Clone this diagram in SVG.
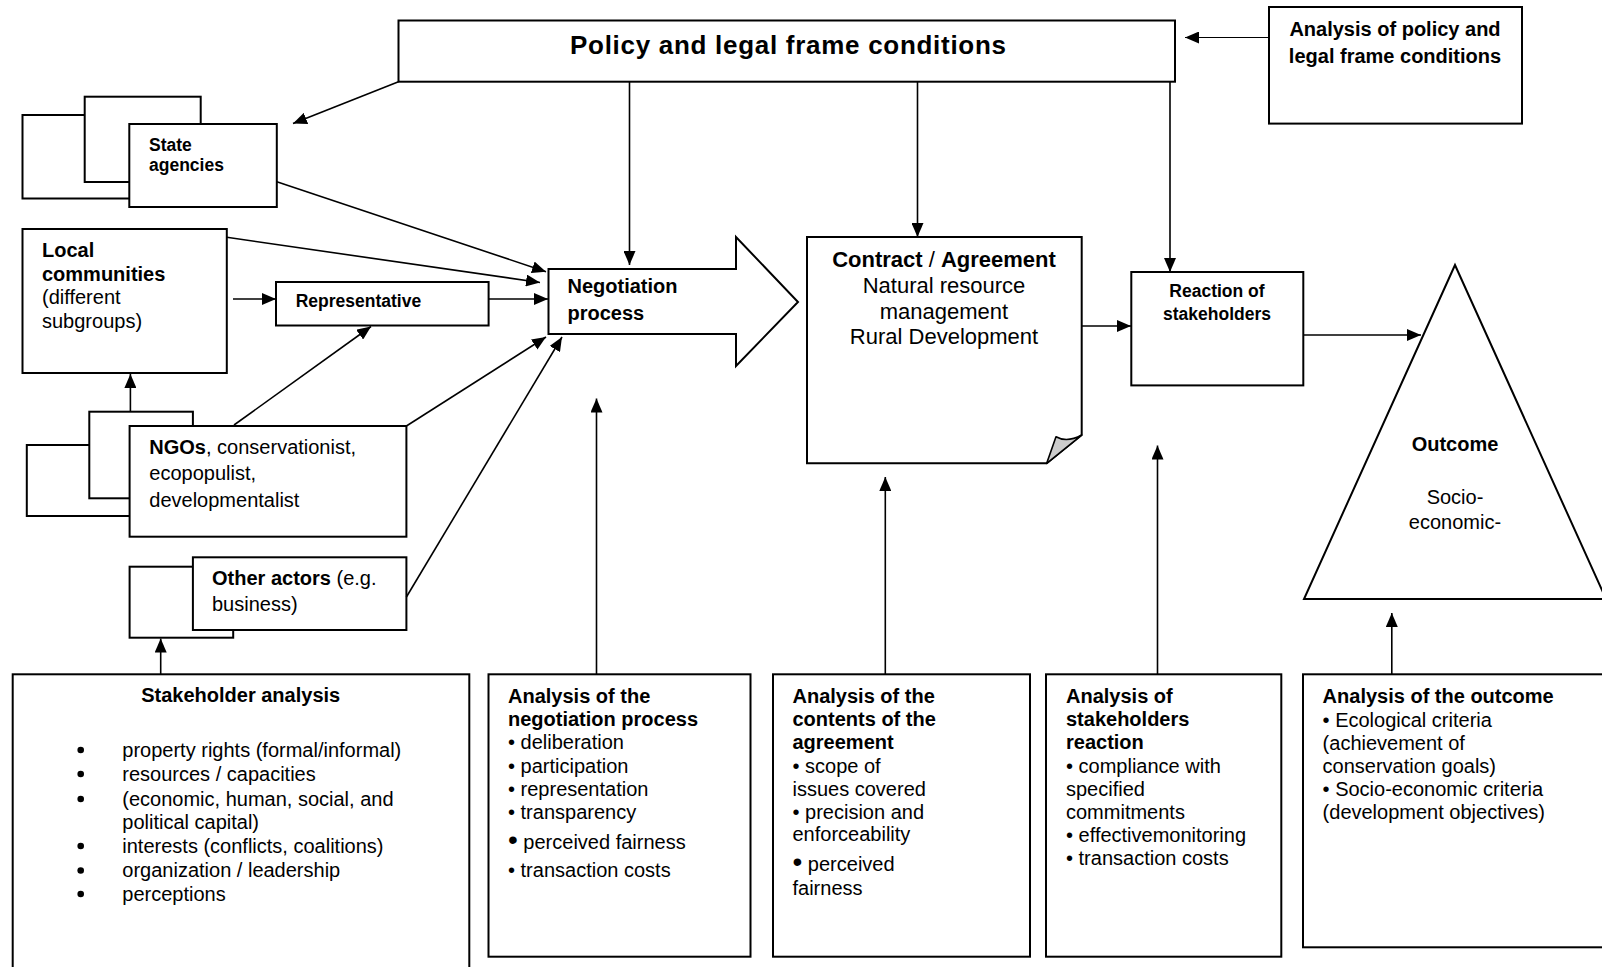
<svg xmlns="http://www.w3.org/2000/svg" width="1602" height="967" viewBox="0 0 1602 967">
  <defs>
    <style>
      .box { fill: #ffffff; stroke: #000000; stroke-width: 2; }
      .link { fill: none; stroke: #000000; stroke-width: 1.6; }
      .thin { fill: none; stroke: #000000; stroke-width: 1.2; }
      .dot { fill: #000000; }
      text { font-family: "Liberation Sans", Arial, Helvetica, sans-serif; fill: #000000; }
      .b { font-weight: bold; }
      .t20 { font-size: 20px; }
      .t18 { font-size: 17.5px; }
      .t22 { font-size: 22px; }
      .mid { text-anchor: middle; }
      .big { font-size: 28px; }
    </style>
    <marker id="ah" markerUnits="userSpaceOnUse" markerWidth="14" markerHeight="12" refX="14" refY="6" orient="auto">
      <path d="M0,0 L14,6 L0,12 Z" fill="#000000"/>
    </marker>
  </defs>

  <rect width="1602" height="967" fill="#ffffff"/>

  <!-- Policy and legal frame conditions -->
  <g id="policy">
    <rect class="box" x="398.5" y="20.5" width="776.5" height="61.2"/>
    <text class="b mid" x="788" y="54" font-size="26" textLength="436" lengthAdjust="spacing">Policy and legal frame conditions</text>
  </g>

  <!-- Analysis of policy and legal frame conditions -->
  <g id="analysis-policy">
    <rect class="box" x="1269" y="7" width="253" height="116.6"/>
    <text class="b t20 mid" x="1395" y="36.4">Analysis of policy and</text>
    <text class="b t20 mid" x="1395" y="62.5">legal frame conditions</text>
  </g>

  <!-- State agencies (stacked) -->
  <g id="state-agencies">
    <rect class="box" x="22.5" y="115" width="127.5" height="83.5"/>
    <rect class="box" x="84.7" y="96.7" width="116" height="85.3"/>
    <rect class="box" x="129.3" y="124" width="147.5" height="83"/>
    <text class="b t18" x="149" y="150.5">State</text>
    <text class="b t18" x="149" y="171">agencies</text>
  </g>

  <!-- Local communities -->
  <g id="local-communities">
    <rect class="box" x="22.5" y="229" width="204.3" height="144"/>
    <text class="b t20" x="42" y="257">Local</text>
    <text class="b t20" x="42" y="280.5">communities</text>
    <text class="t20" x="42" y="304">(different</text>
    <text class="t20" x="42" y="327.5">subgroups)</text>
  </g>

  <!-- Representative -->
  <g id="representative">
    <rect class="box" x="276" y="282" width="212.6" height="43.5"/>
    <text class="b t18" x="295.7" y="307">Representative</text>
  </g>

  <!-- NGOs (stacked) -->
  <g id="ngos">
    <rect class="box" x="26.8" y="445" width="123.2" height="71"/>
    <rect class="box" x="89.3" y="411.7" width="103.6" height="86.6"/>
    <rect class="box" x="129.6" y="426" width="276.8" height="110.7"/>
    <text class="t20" x="149.3" y="453.5"><tspan class="b">NGOs</tspan>, conservationist,</text>
    <text class="t20" x="149.3" y="480">ecopopulist,</text>
    <text class="t20" x="149.3" y="506.7">developmentalist</text>
  </g>

  <!-- Other actors (stacked) -->
  <g id="other-actors">
    <rect class="box" x="129.6" y="566.7" width="103.6" height="71"/>
    <rect class="box" x="192.9" y="557.3" width="213.5" height="72.7"/>
    <text class="t20" x="212" y="585"><tspan class="b">Other actors</tspan> (e.g.</text>
    <text class="t20" x="212" y="611">business)</text>
  </g>

  <!-- Negotiation process (block arrow) -->
  <g id="negotiation">
    <polygon class="box" points="548.5,269 736,269 736,237 798,302 736,366 736,334 548.5,334"/>
    <text class="b t20" x="567.5" y="292.7">Negotiation</text>
    <text class="b t20" x="567.5" y="319.5">process</text>
  </g>

  <!-- Contract / Agreement (document with folded corner) -->
  <g id="contract">
    <path class="box" d="M807,237 H1081.7 V435 L1046.7,463.3 H807 Z"/>
    <path d="M1046.7,463.3 L1056,436.7 Q1067,443 1081.7,435 Z" fill="#cccccc" stroke="#000000" stroke-width="1.6" stroke-linejoin="round"/>
    <text class="t22 mid" x="944" y="267"><tspan class="b">Contract</tspan> / <tspan class="b">Agreement</tspan></text>
    <text class="t22 mid" x="944" y="293">Natural resource</text>
    <text class="t22 mid" x="944" y="318.5">management</text>
    <text class="t22 mid" x="944" y="344">Rural Development</text>
  </g>

  <!-- Reaction of stakeholders -->
  <g id="reaction">
    <rect class="box" x="1131.3" y="272" width="172" height="113.4"/>
    <text class="b t18 mid" x="1217" y="297">Reaction of</text>
    <text class="b t18 mid" x="1217" y="320">stakeholders</text>
  </g>

  <!-- Outcome (triangle) -->
  <g id="outcome">
    <polygon class="box" points="1455,265 1304,599 1606,599"/>
    <text class="b t20 mid" x="1455" y="450.6">Outcome</text>
    <text class="t20 mid" x="1455" y="503.5">Socio-</text>
    <text class="t20 mid" x="1455" y="529">economic-</text>
  </g>

  <!-- Stakeholder analysis -->
  <g id="stakeholder-analysis">
    <rect class="box" x="12.7" y="674.3" width="456.6" height="310"/>
    <text class="b t20 mid" x="240.7" y="702.3">Stakeholder analysis</text>
    <!-- list markers -->
    <circle class="dot" cx="80.7" cy="750" r="3.3"/>
    <circle class="dot" cx="80.7" cy="774" r="3.3"/>
    <circle class="dot" cx="80.7" cy="799" r="3.3"/>
    <circle class="dot" cx="80.7" cy="846" r="3.3"/>
    <circle class="dot" cx="80.7" cy="870.5" r="3.3"/>
    <circle class="dot" cx="80.7" cy="894" r="3.3"/>
    <text class="t20" x="122.3" y="756.7">property rights (formal/informal)</text>
    <text class="t20" x="122.3" y="780.7">resources / capacities</text>
    <text class="t20" x="122.3" y="805.7">(economic, human, social, and</text>
    <text class="t20" x="122.3" y="829">political capital)</text>
    <text class="t20" x="122.3" y="852.7">interests (conflicts, coalitions)</text>
    <text class="t20" x="122.3" y="877.3">organization / leadership</text>
    <text class="t20" x="122.3" y="900.7">perceptions</text>
  </g>

  <!-- Analysis of the negotiation process -->
  <g id="analysis-negotiation">
    <rect class="box" x="488.5" y="674.3" width="262" height="282.4"/>
    <text class="b t20" x="508" y="702.7">Analysis of the</text>
    <text class="b t20" x="508" y="725.5">negotiation process</text>
    <text class="t20" x="508" y="749">• deliberation</text>
    <text class="t20" x="508" y="772.5">• participation</text>
    <text class="t20" x="508" y="796">• representation</text>
    <text class="t20" x="508" y="818.5">• transparency</text>
    <text class="t20" x="508" y="849"><tspan class="big">•</tspan> perceived fairness</text>
    <text class="t20" x="508" y="876.5">• transaction costs</text>
  </g>

  <!-- Analysis of the contents of the agreement -->
  <g id="analysis-contents">
    <rect class="box" x="773" y="674.3" width="257" height="282.4"/>
    <text class="b t20" x="792.5" y="702.7">Analysis of the</text>
    <text class="b t20" x="792.5" y="725.5">contents of the</text>
    <text class="b t20" x="792.5" y="748.5">agreement</text>
    <text class="t20" x="792.5" y="772.5">• scope of</text>
    <text class="t20" x="792.5" y="796">issues covered</text>
    <text class="t20" x="792.5" y="818.5">• precision and</text>
    <text class="t20" x="792.5" y="841">enforceability</text>
    <text class="t20" x="792.5" y="871"><tspan class="big">•</tspan> perceived</text>
    <text class="t20" x="792.5" y="895">fairness</text>
  </g>

  <!-- Analysis of stakeholders reaction -->
  <g id="analysis-reaction">
    <rect class="box" x="1046" y="674.3" width="235.3" height="282.4"/>
    <text class="b t20" x="1066" y="702.7">Analysis of</text>
    <text class="b t20" x="1066" y="725.5">stakeholders</text>
    <text class="b t20" x="1066" y="748.5">reaction</text>
    <text class="t20" x="1066" y="772.5">• compliance with</text>
    <text class="t20" x="1066" y="795.5">specified</text>
    <text class="t20" x="1066" y="818.5">commitments</text>
    <text class="t20" x="1066" y="841.5">• effectivemonitoring</text>
    <text class="t20" x="1066" y="865">• transaction costs</text>
  </g>

  <!-- Analysis of the outcome -->
  <g id="analysis-outcome">
    <rect class="box" x="1303" y="674.3" width="320" height="273"/>
    <text class="b t20" x="1322.6" y="702.7">Analysis of the outcome</text>
    <text class="t20" x="1322.6" y="726.5">• Ecological criteria</text>
    <text class="t20" x="1322.6" y="749.5">(achievement of</text>
    <text class="t20" x="1322.6" y="772.5">conservation goals)</text>
    <text class="t20" x="1322.6" y="796">• Socio-economic criteria</text>
    <text class="t20" x="1322.6" y="818.5">(development objectives)</text>
  </g>

  <!-- Connectors -->
  <g id="connectors">
    <line class="link" x1="398.5" y1="81.7" x2="293" y2="123.6" marker-end="url(#ah)"/>
    <line class="link" x1="629.5" y1="81.7" x2="629.5" y2="265" marker-end="url(#ah)"/>
    <line class="link" x1="917.5" y1="81.7" x2="917.5" y2="237" marker-end="url(#ah)"/>
    <line class="link" x1="1170" y1="81.7" x2="1170" y2="272" marker-end="url(#ah)"/>
    <line class="thin" x1="1269" y1="37.5" x2="1185" y2="37.5" marker-end="url(#ah)"/>
    <line class="link" x1="276.8" y1="181.7" x2="546" y2="271.7" marker-end="url(#ah)"/>
    <line class="link" x1="226.8" y1="237.3" x2="540" y2="282.5" marker-end="url(#ah)"/>
    <line class="link" x1="233" y1="299" x2="276" y2="299" marker-end="url(#ah)"/>
    <line class="link" x1="488.6" y1="299" x2="548" y2="299" marker-end="url(#ah)"/>
    <line class="link" x1="234" y1="425" x2="371" y2="326.5" marker-end="url(#ah)"/>
    <line class="link" x1="406.4" y1="426" x2="546" y2="337" marker-end="url(#ah)"/>
    <line class="link" x1="406.4" y1="597" x2="562" y2="337" marker-end="url(#ah)"/>
    <line class="link" x1="130.4" y1="411.7" x2="130.4" y2="374" marker-end="url(#ah)"/>
    <line class="link" x1="160.7" y1="674.3" x2="160.7" y2="638.5" marker-end="url(#ah)"/>
    <line class="link" x1="596.5" y1="674.3" x2="596.5" y2="398.5" marker-end="url(#ah)"/>
    <line class="link" x1="885.3" y1="674.3" x2="885.3" y2="477" marker-end="url(#ah)"/>
    <line class="link" x1="1157.5" y1="674.3" x2="1157.5" y2="445.5" marker-end="url(#ah)"/>
    <line class="link" x1="1391.8" y1="674.3" x2="1391.8" y2="613" marker-end="url(#ah)"/>
    <line class="link" x1="1081.7" y1="326" x2="1131" y2="326" marker-end="url(#ah)"/>
    <line class="link" x1="1303.3" y1="335" x2="1421" y2="335" marker-end="url(#ah)"/>
  </g>
</svg>
